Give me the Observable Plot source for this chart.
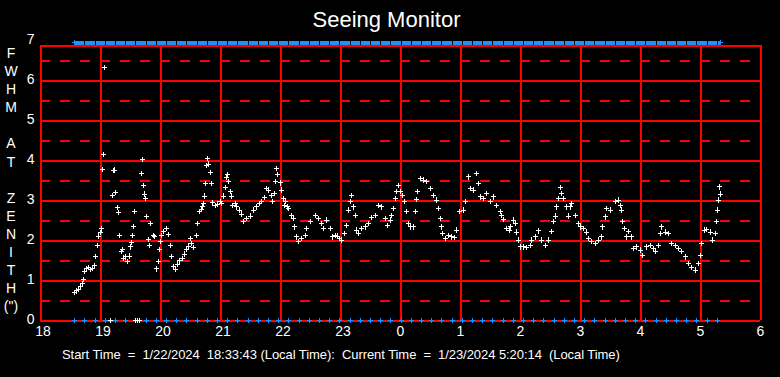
<!DOCTYPE html>
<html>
<head>
<meta charset="utf-8">
<script src="https://cdn.jsdelivr.net/npm/d3@7"></script>
<script src="https://cdn.jsdelivr.net/npm/@observablehq/plot@0.6"></script>
<style>
  html, body { margin: 0; padding: 0; background: #000; }
  #wrap { position: relative; width: 780px; height: 377px; background: #000; overflow: hidden;
          font-family: "Liberation Sans", Arial, sans-serif; color: #fff; }
  #title { position: absolute; top: 7px; left: 0; width: 773px; text-align: center; font-size: 22px; line-height: 26px; }
  #ylab { position: absolute; left: 2px; top: 44px; width: 18px; text-align: center; font-size: 14px; line-height: 18.1px; white-space: pre; }
  #caption { position: absolute; top: 346px; left: 62px; font-size: 13px; line-height: 18px; white-space: pre; letter-spacing: -0.06px; }
  #chart { position: absolute; left: 0; top: 0; }
</style>
</head>
<body>
<div id="wrap">
  <div id="chart"></div>
  <div id="title"></div>
  <div id="ylab"></div>
  <div id="caption"></div>
</div>
<script>
// ---- Data (minutes after 18:00 local time, FWHM at zenith in arcsec) ----
const titleText = "Seeing Monitor";
const yLabelLetters = ["F","W","H","M"," ","A","T"," ","Z","E","N","I","T","H","(\")"];
const captionText = "Start Time  =  1/22/2024  18:33:43 (Local Time):  Current Time  =  1/23/2024 5:20:14  (Local Time)";

const tickMinutes = [0,60,120,180,240,300,360,420,480,540,600,660,720];
const tickLabels  = ["18","19","20","21","22","23","0","1","2","3","4","5","6"];
const yTicks = [0,1,2,3,4,5,6,7];
const yHalfTicks = [0.5,1.5,2.5,3.5,4.5,5.5,6.5];
const frameTop = 6.875;

const minutes = [34,36,38,40,42,43,44,46,48,50,52,54,55,57,58,60,61,62,63,64,70,72,73,74,75,77,78,79,81,82,83,85,87,89,90,91,92,93,94,95,97,99,
101,102,103,104,105,106,108,109,110,113,114,116,118,119,120,121,123,126,128,130,131,133,135,137,139,142,144,146,148,150,151,153,156,157,159,
161,162,163,164,165,166,167,168,170,171,172,175,177,180,181,183,185,186,187,188,190,191,192,195,196,199,201,203,206,210,213,216,219,221,224,
226,228,231,232,234,235,236,237,240,241,243,244,245,247,248,251,253,254,256,258,261,265,266,270,275,278,281,283,286,290,292,295,297,299,301,
304,306,308,310,311,313,315,316,318,321,325,328,331,335,338,341,345,347,350,351,353,355,356,358,360,362,364,366,368,370,373,375,376,377,380,
383,386,390,393,396,398,400,401,402,405,408,411,414,416,419,423,425,428,430,433,436,438,440,443,446,450,453,456,460,461,463,466,469,470,473,
475,476,478,480,483,486,490,491,495,498,501,505,508,511,513,515,516,518,520,521,523,526,528,530,531,535,538,540,543,546,548,551,555,558,561,
562,565,566,570,575,578,580,581,582,584,586,588,591,593,596,600,602,606,610,613,615,618,620,621,625,628,631,635,638,641,645,648,651,655,658,
660,661,664,666,670,672,675,676,677,678,679,680];

const fwhm = [0.70,0.74,0.78,0.86,0.92,1.02,1.22,1.30,1.32,1.28,1.31,1.38,1.60,1.87,2.11,2.20,2.29,3.78,4.15,6.33,0,3.12,3.75,3.76,3.20,2.82,2.70,2.12,1.72,1.77,1.56,1.59,1.48,1.61,1.84,1.95,2.12,2.35,2.72,0,0,0,
3.67,4.02,3.37,3.16,3.05,2.60,2.02,1.87,2.43,2.13,2.10,1.29,1.48,1.77,1.98,2.13,2.22,2.30,2.15,1.87,1.60,1.34,1.28,1.41,1.49,1.55,1.66,1.77,1.86,2.05,1.92,1.83,2.12,2.42,2.72,
2.78,2.86,2.92,3.11,3.42,3.88,4.05,3.91,3.70,3.42,2.94,2.88,2.91,2.97,2.93,3.11,3.32,3.57,3.65,3.47,3.22,3.11,2.88,2.92,2.84,2.76,2.66,2.47,2.55,2.61,2.76,2.84,2.92,2.97,3.08,
3.30,3.26,3.13,2.98,3.17,3.47,3.80,3.65,3.44,3.26,3.05,2.88,2.97,2.84,2.80,2.63,2.55,2.34,2.09,1.97,2.05,2.13,2.30,2.47,2.63,2.55,2.43,2.30,2.51,2.30,2.09,2.13,2.11,2.05,2.01,
2.18,2.38,2.76,2.97,3.13,2.84,2.63,2.26,2.17,2.30,2.34,2.42,2.57,2.63,2.88,2.84,2.55,2.38,2.51,2.63,2.80,3.05,3.22,3.38,3.22,3.13,2.97,2.72,2.42,2.34,2.34,2.72,3.03,3.22,3.55,
3.51,3.47,3.30,3.13,3.01,2.80,2.55,2.34,2.17,2.05,2.13,2.09,2.07,2.26,2.72,2.76,2.97,3.59,3.30,3.26,3.67,3.42,3.09,3.05,3.17,2.97,3.09,2.88,2.72,2.63,2.52,2.30,2.26,2.34,2.51,
2.42,2.21,2.01,1.84,1.84,1.82,1.88,2.01,2.09,2.24,2.01,1.88,2.01,2.22,2.47,2.61,2.84,3.05,3.32,3.17,3.05,2.84,2.61,2.84,2.93,2.63,2.42,2.34,2.30,2.21,2.05,1.97,1.92,2.01,2.09,
2.34,2.59,2.80,2.76,2.97,3.01,2.88,2.76,2.47,2.30,2.09,2.22,2.09,1.80,1.84,1.76,1.63,1.84,1.88,1.80,1.72,1.88,2.17,2.34,2.21,2.17,1.92,1.88,1.80,1.72,1.59,1.42,1.32,1.26,1.42,
1.63,1.92,2.26,2.27,2.21,2.01,2.17,2.47,2.76,3.01,3.34,3.16];

// status markers along the bottom (minutes after 18:00)
const statusMinutes = [34,44,55,65,75,85,95,106,116,126,136,146,157,167,177,187,197,208,218,228,238,248,259,269,279,289,299,310,320,330,340,350,
361,371,381,391,401,412,422,432,442,452,463,473,483,493,503,514,524,534,544,554,565,575,585,595,605,616,626,636,646,656,667,677];

// ---- Build ----
const samples = minutes.map((m, i) => ({m, v: fwhm[i]}));
const startM = minutes[0], endM = minutes[minutes.length - 1];
const barBreaks = [startM, ...statusMinutes.slice(1), endM];
const barSegs = d3.pairs(barBreaks).map(([a, b]) => ({a: a + 0.5, b: b - 0.5}));
const labelOf = d => tickLabels[tickMinutes.indexOf(d)];
const ticksTwoDigit = tickMinutes.filter(d => labelOf(d).length > 1);
const ticksOneDigit = tickMinutes.filter(d => labelOf(d).length === 1);

const plus = {
  draw(ctx, size) {
    const r = Math.sqrt(size / Math.PI);
    ctx.moveTo(-r, 0); ctx.lineTo(r, 0);
    ctx.moveTo(0, -r); ctx.lineTo(0, r);
  }
};

const RED = "#ff0000", BLUE = "#1e90ff";

const chart = Plot.plot({
  width: 780, height: 377,
  marginLeft: 40, marginRight: 20, marginTop: 40, marginBottom: 57,
  style: {background: "transparent", color: "#fff", fontFamily: "'Liberation Sans', Arial, sans-serif", fontSize: "13px"},
  x: {domain: [0, 720]},
  y: {domain: [0, 7]},
  marks: [
    // dashed half-unit grid
    Plot.ruleY(yHalfTicks, {x1: tickMinutes[0], x2: tickMinutes[tickMinutes.length-1], stroke: RED, strokeWidth: 2, strokeDasharray: "10,10", shapeRendering: "crispEdges"}),
    // solid integer grid and frame
    Plot.ruleY(yTicks.filter(d => d < 7).concat([frameTop]), {x1: tickMinutes[0], x2: tickMinutes[tickMinutes.length-1], stroke: RED, strokeWidth: 2, shapeRendering: "crispEdges"}),
    Plot.ruleX(tickMinutes, {y1: 0, y2: frameTop, stroke: RED, strokeWidth: 2, shapeRendering: "crispEdges"}),
    // axes
    Plot.axisX(ticksTwoDigit, {tickSize: 0, tickPadding: 6, dx: 2.5, label: null, fill: "#fff", fontSize: 14, tickFormat: labelOf}),
    Plot.axisX(ticksOneDigit, {tickSize: 0, tickPadding: 6, dx: 0, label: null, fill: "#fff", fontSize: 14, tickFormat: labelOf}),
    Plot.axisY(yTicks, {tickSize: 0, tickPadding: 6, dy: -1, label: null, fill: "#fff", fontSize: 14}),
    // status bar at top
    Plot.ruleY(barSegs, {y: () => 7, x1: "a", x2: "b", stroke: BLUE, strokeWidth: 4, dy: 2, shapeRendering: "crispEdges"}),
    Plot.dot([startM, endM], {x: d => d, y: () => 7, symbol: plus, r: 2.7, stroke: BLUE, dy: 2, shapeRendering: "crispEdges"}),
    // status markers at bottom
    Plot.dot(statusMinutes, {x: d => d, y: () => 0, symbol: plus, r: 2.7, stroke: BLUE, strokeWidth: 1, shapeRendering: "crispEdges"}),
    // FWHM samples
    Plot.dot(samples, {x: "m", y: "v", symbol: plus, r: 2.7, stroke: "#fff", strokeWidth: 1, shapeRendering: "crispEdges"})
  ]
});
document.getElementById("chart").appendChild(chart);
document.getElementById("title").textContent = titleText;
document.getElementById("ylab").textContent = yLabelLetters.join("\n");
document.getElementById("caption").textContent = captionText;
</script>
</body>
</html>
